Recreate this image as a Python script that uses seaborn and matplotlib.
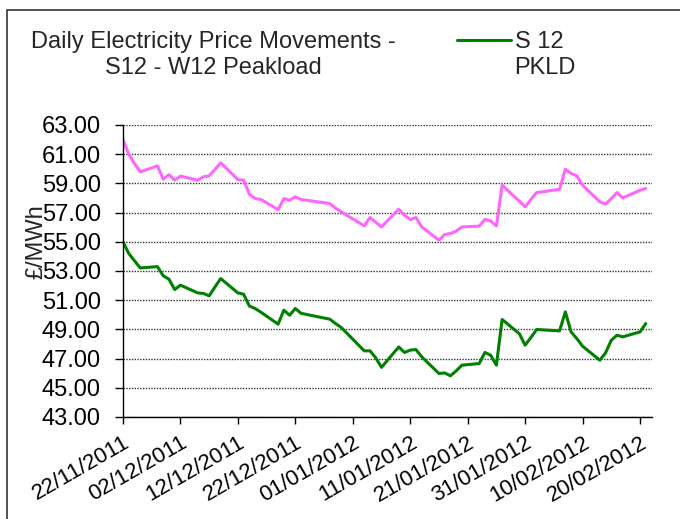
import matplotlib
matplotlib.use("Agg")
import matplotlib.pyplot as plt
import matplotlib.dates as mdates
from matplotlib.ticker import FormatStrFormatter
from matplotlib.patches import Rectangle
import seaborn as sns
import pandas as pd

# Dates de cotation (jours ouvrés)
dates = [
    "22/11/2011", "23/11/2011", "24/11/2011", "25/11/2011",
    "28/11/2011", "29/11/2011", "30/11/2011", "01/12/2011", "02/12/2011",
    "05/12/2011", "06/12/2011", "07/12/2011", "08/12/2011", "09/12/2011",
    "12/12/2011", "13/12/2011", "14/12/2011", "15/12/2011", "16/12/2011",
    "19/12/2011", "20/12/2011", "21/12/2011", "22/12/2011", "23/12/2011",
    "28/12/2011", "29/12/2011", "30/12/2011",
    "03/01/2012", "04/01/2012", "05/01/2012", "06/01/2012",
    "09/01/2012", "10/01/2012", "11/01/2012", "12/01/2012", "13/01/2012",
    "16/01/2012", "17/01/2012", "18/01/2012", "19/01/2012", "20/01/2012",
    "23/01/2012", "24/01/2012", "25/01/2012", "26/01/2012", "27/01/2012",
    "30/01/2012", "31/01/2012", "01/02/2012", "02/02/2012", "03/02/2012",
    "06/02/2012", "07/02/2012", "08/02/2012", "09/02/2012", "10/02/2012",
    "13/02/2012", "14/02/2012", "15/02/2012", "16/02/2012", "17/02/2012",
    "20/02/2012", "21/02/2012",
]

# Summer 12 peakload (vert)
s12_pkld = [
    55.00, 54.20, 53.70, 53.21,
    53.30, 52.67, 52.44, 51.73, 52.03,
    51.50, 51.46, 51.30, 51.90, 52.48,
    51.50, 51.41, 50.60, 50.43, 50.18,
    49.36, 50.32, 49.97, 50.43, 50.10,
    49.70, 49.40, 49.13,
    47.53, 47.53, 47.05, 46.40,
    47.80, 47.42, 47.58, 47.62, 47.12,
    45.98, 46.02, 45.82, 46.16, 46.55,
    46.66, 47.42, 47.23, 46.55, 49.68,
    48.70, 47.92, 48.44, 48.99, 48.97,
    48.90, 50.20, 48.83, 48.37, 47.85,
    46.89, 47.39, 48.26, 48.60, 48.49,
    48.83, 49.40,
]

# Winter 12 peakload (rose)
w12_pkld = [
    62.00, 61.00, 60.36, 59.79,
    60.20, 59.29, 59.60, 59.22, 59.50,
    59.22, 59.45, 59.52, 59.95, 60.41,
    59.26, 59.22, 58.26, 57.96, 57.90,
    57.20, 57.96, 57.85, 58.08, 57.90,
    57.62, 57.30, 57.05,
    56.09, 56.66, 56.34, 56.02,
    57.23, 56.82, 56.53, 56.66, 56.02,
    55.11, 55.50, 55.57, 55.73, 56.02,
    56.07, 56.53, 56.43, 56.09, 58.88,
    57.78, 57.39, 57.90, 58.37, 58.42,
    58.60, 59.97, 59.68, 59.52, 58.88,
    57.74, 57.58, 57.96, 58.37, 58.01,
    58.53, 58.65,
]

tick_dates = ["22/11/2011", "02/12/2011", "12/12/2011", "22/12/2011", "01/01/2012",
              "11/01/2012", "21/01/2012", "31/01/2012", "10/02/2012", "20/02/2012"]
y_ticks = [43, 45, 47, 49, 51, 53, 55, 57, 59, 61, 63]

sns.set_style("white")
plt.rcParams['font.family'] = ['Liberation Sans', 'DejaVu Sans']

df = pd.DataFrame({
    "Date": pd.to_datetime(dates, dayfirst=True),
    "S12": s12_pkld,
    "W12": w12_pkld,
})

fig = plt.figure(figsize=(6.8, 5.19), dpi=100)
ax = fig.add_axes([123 / 680, 1 - 417 / 519, 528.5 / 680, 292 / 519])

sns.lineplot(data=df, x="Date", y="W12", color="#FF66FF", lw=2.2, ax=ax)
sns.lineplot(data=df, x="Date", y="S12", color="#008000", lw=2.2, ax=ax, label="S 12")
if ax.get_legend() is not None:
    ax.get_legend().remove()

# Axes
ax.set_ylim(43, 63)
ax.set_yticks(y_ticks)
ax.yaxis.set_major_formatter(FormatStrFormatter("%.2f"))
ax.set_xlim(pd.Timestamp("2011-11-22"), pd.Timestamp("2012-02-22"))
ax.set_xticks(pd.to_datetime(tick_dates, dayfirst=True))
ax.xaxis.set_major_formatter(mdates.DateFormatter("%d/%m/%Y"))
ax.set_xlabel("")
ax.set_ylabel("£/MWh", fontsize=17)
ax.yaxis.set_label_coords(-0.144, 0.6)

ax.grid(axis="y", color="#333333", ls=(0, (1, 1)), lw=1)
ax.grid(axis="x", visible=False)
for side in ["top", "right"]:
    ax.spines[side].set_visible(False)
for side in ["left", "bottom"]:
    ax.spines[side].set_color("black")
    ax.spines[side].set_linewidth(1)

ax.tick_params(axis="y", left=True, direction="out", length=6, width=1, pad=10,
               labelsize=17, colors="black")
ax.tick_params(axis="x", bottom=True, direction="out", length=5, width=1, pad=6,
               labelsize=16, colors="black")
plt.setp(ax.get_xticklabels(), rotation=30, ha="right", rotation_mode="anchor")

# Titre et légende
fig.text(213 / 680, 1 - 55 / 519, "Daily Electricity Price Movements -\nS12 - W12 Peakload",
         ha="center", va="center", fontsize=17, linespacing=1.2)
handles, labels = ax.get_legend_handles_labels()
fig.legend(handles, labels, loc="center left", bbox_to_anchor=(457 / 680, 1 - 42 / 519),
           frameon=False, fontsize=17, handlelength=2.3, handletextpad=0.15,
           borderaxespad=0, borderpad=0)
fig.text(514 / 680, 1 - 68 / 519, "PKLD", ha="left", va="center", fontsize=17)

# Cadre extérieur
fig.patches.append(Rectangle((7 / 680, -0.1), 1.2, 1.1 - 10 / 519, transform=fig.transFigure,
                             fill=False, edgecolor="#333333", lw=1.2))

fig.savefig("out.png", dpi=100)
